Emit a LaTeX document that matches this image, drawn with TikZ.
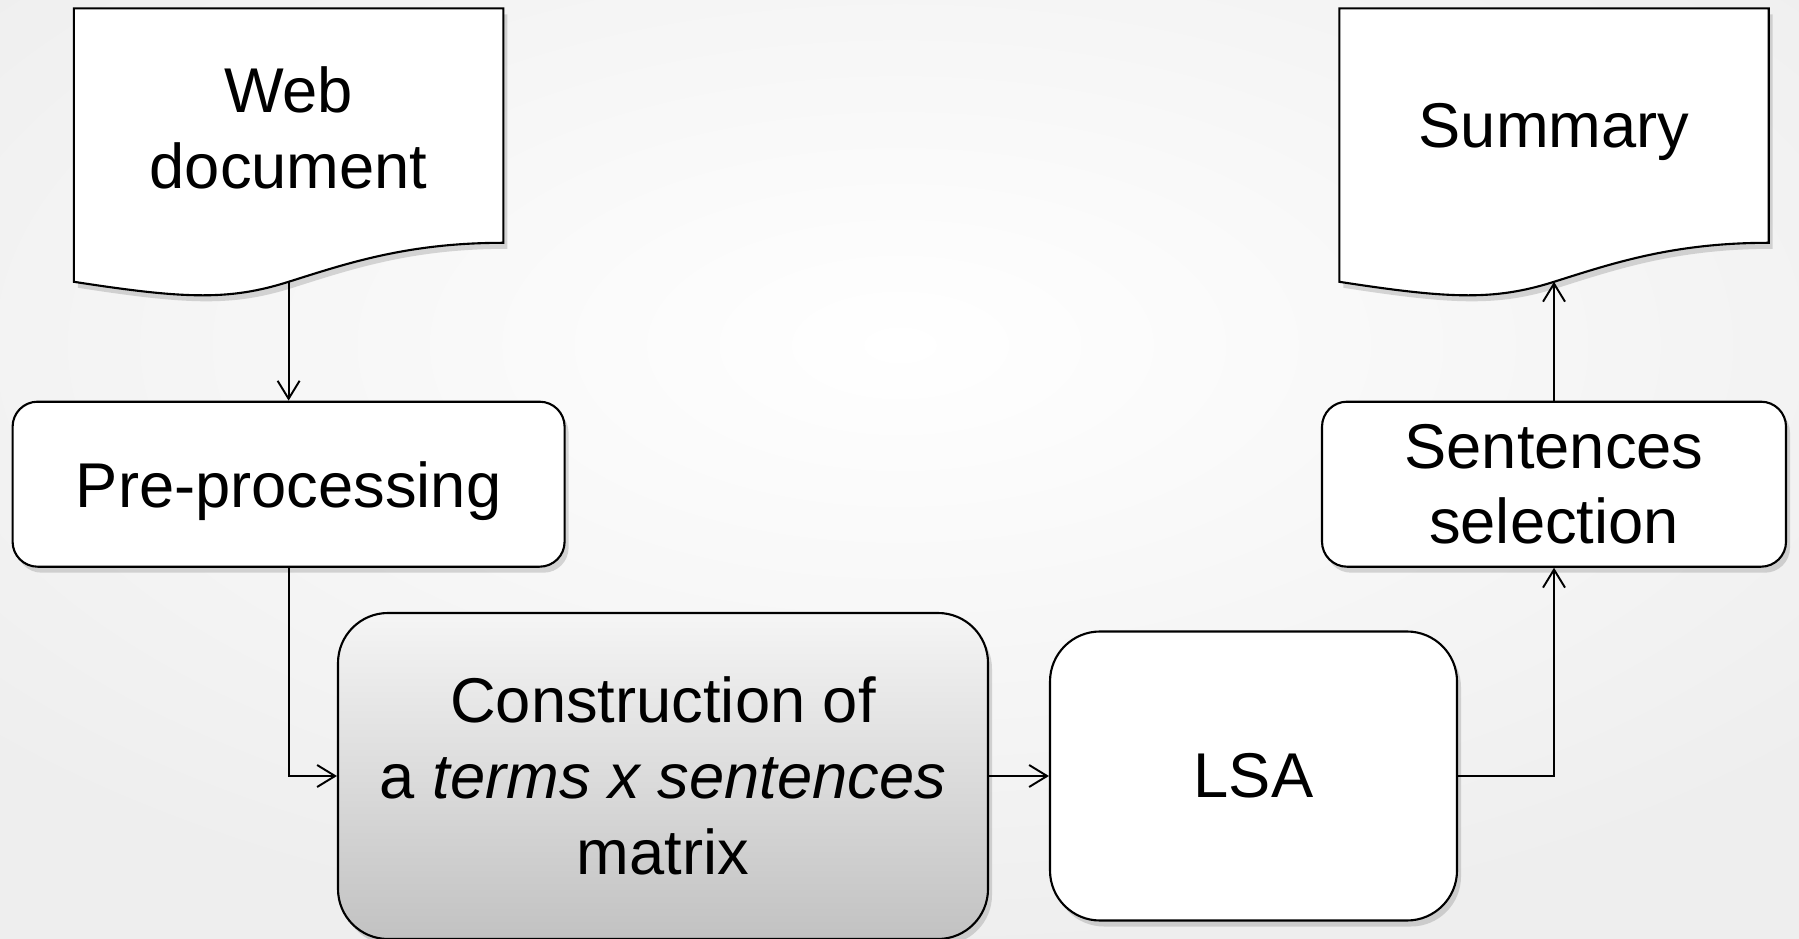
\documentclass[tikz,border=0pt]{standalone}
\usepackage{fontspec}
\setmainfont{Liberation Sans}
\usetikzlibrary{arrows.meta, positioning, calc, shadows, backgrounds}

\begin{document}
\begin{tikzpicture}[x=1cm,y=1cm,
  font=\fontsize{18}{21.6}\selectfont,
  box/.style={draw, line width=0.6pt, rounded corners=2.5mm, fill=white, align=center, inner sep=0pt,
    drop shadow={opacity=0.3, shadow xshift=0.4mm, shadow yshift=-0.6mm}},
  doc/.style={minimum width=4.28cm, minimum height=2.33cm, align=center, inner sep=0pt},
  docline/.style={draw, line width=0.6pt, fill=white,
    drop shadow={opacity=0.3, shadow xshift=0.4mm, shadow yshift=-0.6mm}},
  flow/.style={line width=0.55pt, -{Straight Barb[length=1.8mm,width=2.2mm]}}]
  \useasboundingbox (0,0) rectangle (17.99,-9.39);

  % Documents (text only, outline drawn behind)
  \node[doc] (web) at (2.886,-1.28) {Web\\document};
  \node[doc, text depth=0pt] (sum) at (15.54,-1.256) {Summary};

  % Process boxes
  \node[box, text depth=0pt, minimum width=5.52cm, minimum height=1.65cm] (pre) at (2.886,-4.842) {Pre-processing};
  \node[box, minimum width=4.64cm, minimum height=1.65cm] (sel) at (15.54,-4.842) {Sentences\\selection};
  \node[box, rounded corners=5mm, minimum width=6.5cm, minimum height=3.26cm,
    top color=gray!8, bottom color=gray!48] (mat) at (6.63,-7.76)
    {Construction of\\a \textit{terms x sentences}\\matrix};
  \node[box, rounded corners=5mm, minimum width=4.07cm, minimum height=2.89cm] (lsa) at (12.535,-7.76) {LSA};

  \begin{scope}[on background layer]
    % Page shading
    \clip (0,0) rectangle (17.99,-9.39);
    \shade[inner color=white, outer color=gray!13] (-3,2.5) rectangle (21,-9.4);

    % Document outlines with wavy bottom
    \draw[docline] ($(web.north west)+(0,0.024)$) -- ($(web.north east)+(0,0.024)$) -- ($(web.south east)+(0,0.024)$)
      .. controls +(-0.95,0) and +(0.6,0.19) .. ($(web.south)+(0,-0.366)$) coordinate (web-tip)
      .. controls +(-0.6,-0.19) and +(1.1,-0.17) .. ($(web.south west)+(0,-0.366)$) -- cycle;
    \draw[docline] (sum.north west) -- (sum.north east) -- (sum.south east)
      .. controls +(-0.95,0) and +(0.6,0.19) .. ($(sum.south)+(0,-0.39)$) coordinate (sum-tip)
      .. controls +(-0.6,-0.19) and +(1.1,-0.17) .. ($(sum.south west)+(0,-0.39)$) -- cycle;
  \end{scope}

  % Connectors
  \draw[flow] (web-tip) -- (pre.north);
  \draw[flow] (pre.south) |- (mat.west);
  \draw[flow] (mat.east) -- (lsa.west);
  \draw[flow] (lsa.east) -| (sel.south);
  \draw[flow] (sel.north) -- (sum-tip);
\end{tikzpicture}
\end{document}
